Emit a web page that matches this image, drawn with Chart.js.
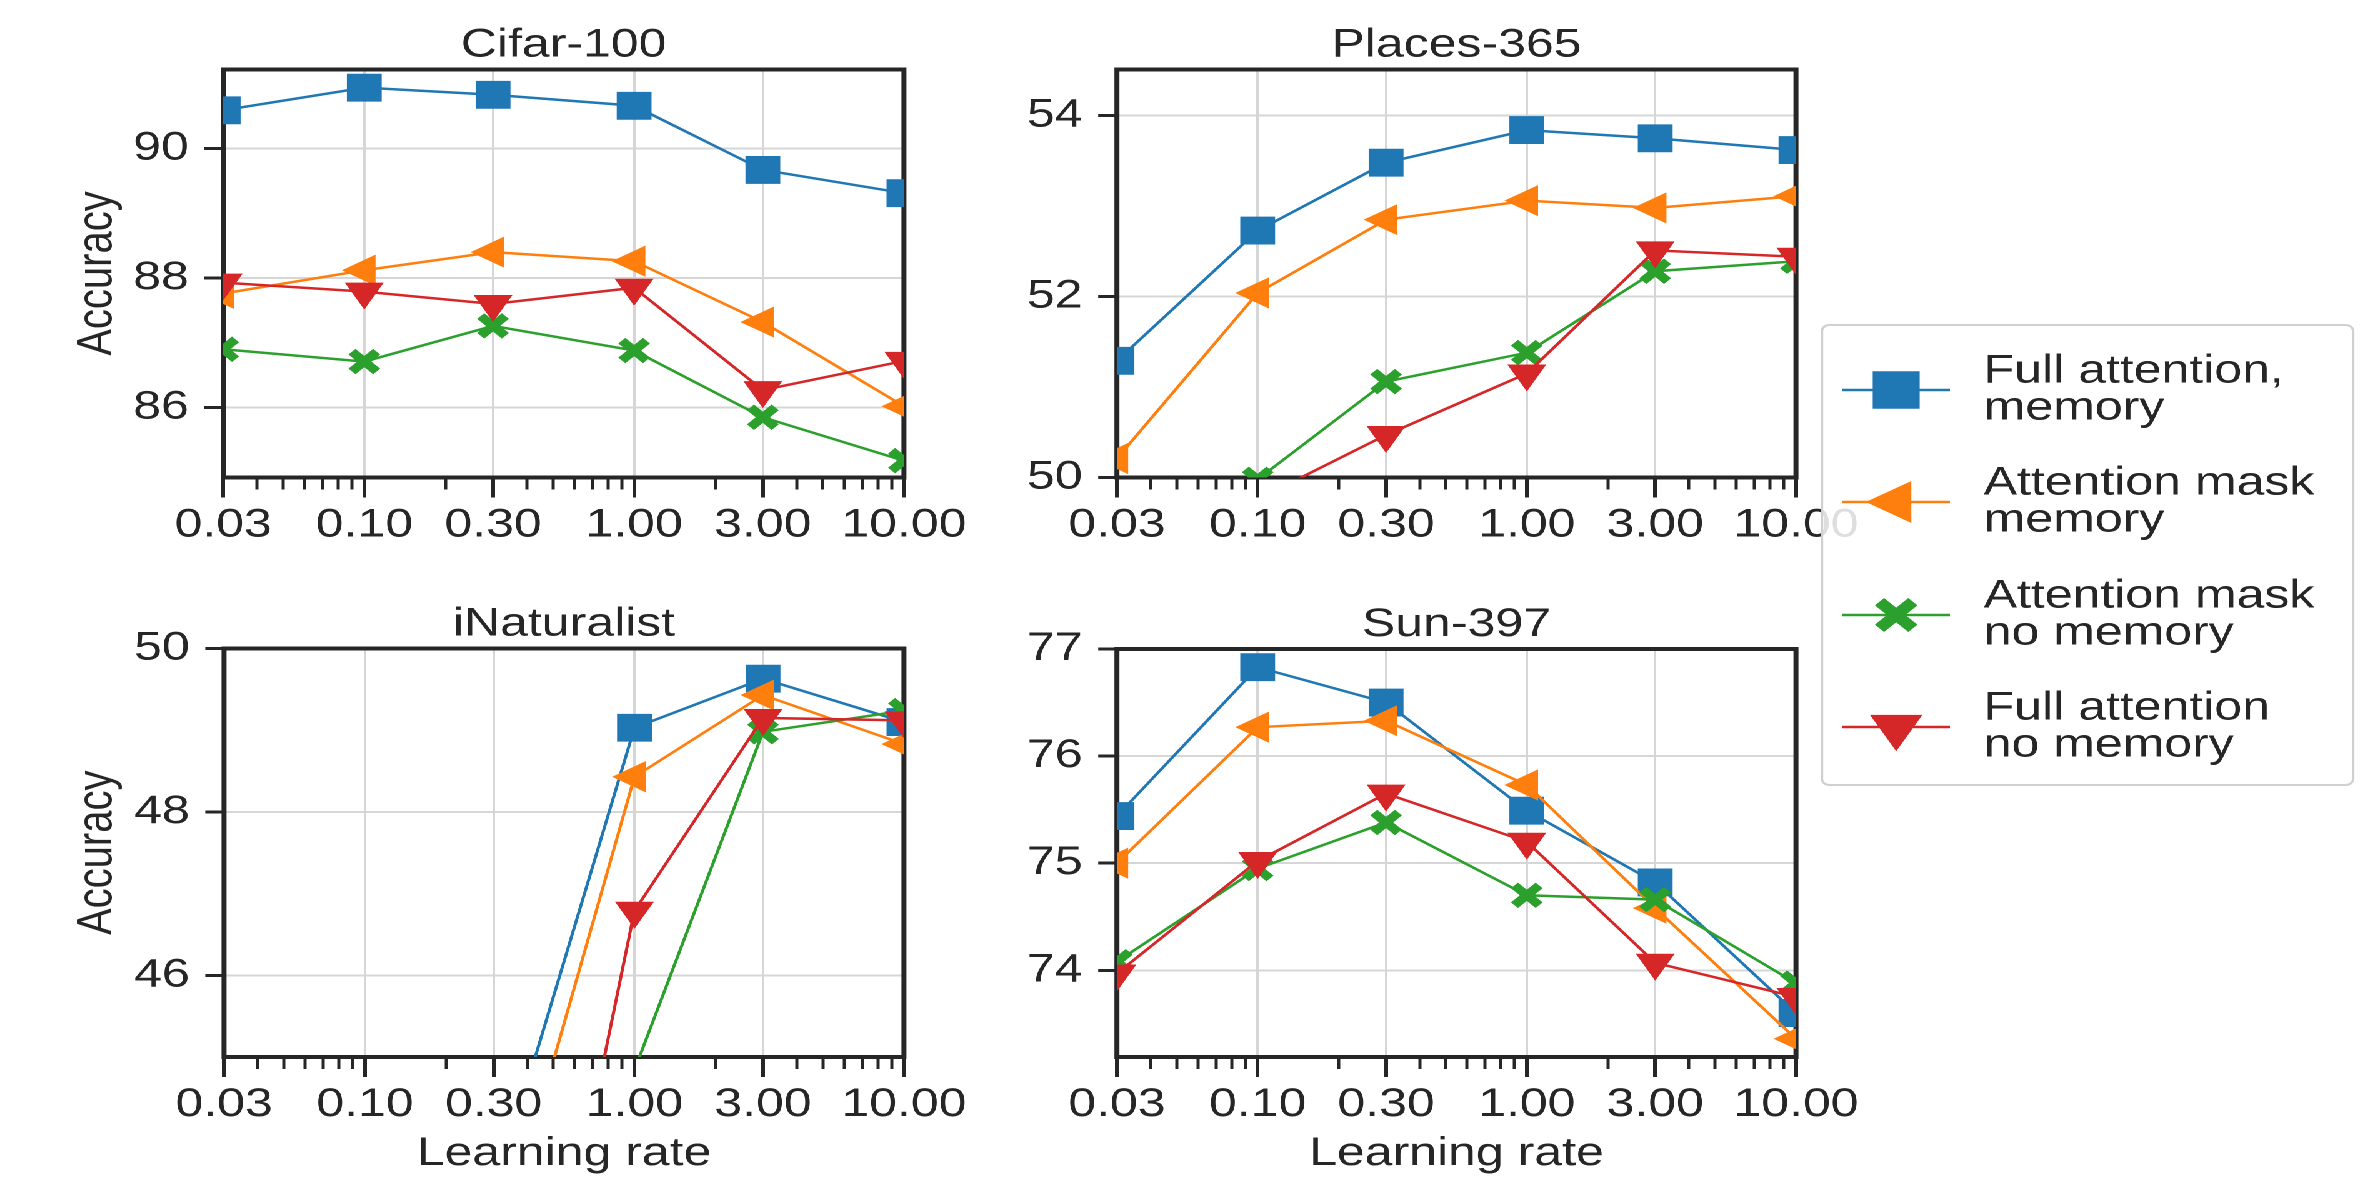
<!DOCTYPE html>
<html lang="en">
<head>
<meta charset="utf-8">
<title>Accuracy vs learning rate</title>
<script src="https://cdn.jsdelivr.net/npm/chart.js@4.4.1/dist/chart.umd.min.js"></script>
<style>
  html, body { margin: 0; padding: 0; background: #ffffff; overflow: hidden; }
  /* the source figure is stretched sideways (~1.25x), so the whole stage is stretched too */
  #stage { position: absolute; left: 0; top: 0; width: 1897px; height: 1178px;
           transform: scaleX(1.25); transform-origin: 0 0; }
  #stage canvas { position: absolute; }
</style>
</head>
<body>
<div id="stage">
  <canvas id="chart-cifar"></canvas>
  <canvas id="chart-places"></canvas>
  <canvas id="chart-inat"></canvas>
  <canvas id="chart-sun"></canvas>
</div>
<script>
// x values shared by all four panels
const learningRates = [0.03, 0.1, 0.3, 1, 3, 10];
const xMajorTicks = [0.03, 0.1, 0.3, 1, 3, 10];
const xMinorTicks = [0.04, 0.05, 0.06, 0.07, 0.08, 0.09, 0.2, 0.4, 0.5, 0.6, 0.7, 0.8, 0.9, 2, 4, 5, 6, 7, 8, 9];

const seriesLabels = [
  ['Full attention,', 'memory'],
  ['Attention mask', 'memory'],
  ['Attention mask', 'no memory'],
  ['Full attention', 'no memory']
];

// Cifar-100
const cifarFullMem   = [90.59, 90.94, 90.83, 90.66, 89.67, 89.31];
const cifarMaskMem   = [87.76, 88.12, 88.40, 88.26, 87.32, 86.02];
const cifarMaskNoMem = [86.90, 86.71, 87.26, 86.88, 85.85, 85.18];
const cifarFullNoMem = [87.93, 87.79, 87.60, 87.85, 86.27, 86.72];
const cifarYTicks = [86, 88, 90];

// Places-365
const placesFullMem   = [51.29, 52.73, 53.48, 53.84, 53.75, 53.62];
const placesMaskMem   = [50.21, 52.04, 52.85, 53.06, 52.98, 53.11];
const placesMaskNoMem = [null, 49.98, 51.06, 51.38, 52.28, 52.39];
const placesFullNoMem = [null, 49.76, 50.47, 51.15, 52.51, 52.44];
const placesYTicks = [50, 52, 54];

// iNaturalist (low learning rates fall far below the axis)
const inatFullMem   = [null, null, 43.31, 49.03, 49.63, 49.10];
const inatMaskMem   = [null, null, 42.39, 48.43, 49.43, 48.83];
const inatMaskNoMem = [null, null, null, 44.84, 48.98, 49.24];
const inatFullNoMem = [null, null, 38.42, 46.79, 49.15, 49.12];
const inatYTicks = [46, 48, 50];

// Sun-397
const sunFullMem   = [75.44, 76.83, 76.50, 75.49, 74.82, 73.60];
const sunMaskMem   = [75.00, 76.27, 76.33, 75.73, 74.58, 73.36];
const sunMaskNoMem = [74.08, 74.95, 75.38, 74.70, 74.66, 73.88];
const sunFullNoMem = [73.97, 75.02, 75.65, 75.20, 74.07, 73.75];
const sunYTicks = [74, 75, 76, 77];

const FONT = "'Liberation Sans', Arial, Helvetica, sans-serif";
const INK = '#262626';
const GRID = '#d6d6d6';

Chart.defaults.font.family = FONT;
Chart.defaults.color = INK;

const seriesStyles = [
  { color: '#1f77b4', pointStyle: 'rect', rotation: 0, radius: 19, border: 1, order: 4 },
  { color: '#ff7f0e', pointStyle: 'triangle', rotation: -90, radius: 17, border: 1, order: 3 },
  { color: '#2ca02c', pointStyle: 'crossRot', rotation: 0, radius: 14, border: 8, order: 2 },
  { color: '#d62728', pointStyle: 'triangle', rotation: 180, radius: 17, border: 1, order: 1 }
];

// black box around every plot area
const framePlugin = {
  id: 'frame',
  beforeDatasetsDraw(chart) {
    const { ctx, chartArea: a } = chart;
    ctx.save();
    ctx.strokeStyle = INK;
    ctx.lineWidth = 4;
    ctx.strokeRect(a.left, a.top, a.right - a.left, a.bottom - a.top);
    ctx.restore();
  }
};

// subplot title centred over the plot area
const panelTitlePlugin = {
  id: 'panelTitle',
  afterDraw(chart, args, opts) {
    const { ctx, chartArea: a } = chart;
    ctx.save();
    ctx.font = `40px ${FONT}`;
    ctx.fillStyle = INK;
    ctx.textAlign = 'center';
    ctx.textBaseline = 'middle';
    ctx.fillText(opts.text, (a.left + a.right) / 2, a.top - 24);
    ctx.restore();
  }
};

// figure legend, drawn on the Places chart canvas
const sideLegendPlugin = {
  id: 'sideLegend',
  afterDraw(chart, args, opts) {
    if (!opts.box) return;
    const { ctx } = chart;
    const b = opts.box;
    ctx.save();
    ctx.beginPath();
    ctx.roundRect(b.x, b.y, b.w, b.h, 6);
    ctx.fillStyle = 'rgba(255,255,255,0.85)';
    ctx.fill();
    ctx.strokeStyle = '#d0d0d0';
    ctx.lineWidth = 2;
    ctx.stroke();

    opts.rows.forEach((cy, i) => {
      const st = seriesStyles[i];
      ctx.strokeStyle = st.color;
      ctx.fillStyle = st.color;
      ctx.lineWidth = 2.5;
      ctx.beginPath();
      ctx.moveTo(opts.lineFrom, cy);
      ctx.lineTo(opts.lineTo, cy);
      ctx.stroke();
      ctx.lineWidth = st.border * 1.3;
      Chart.helpers.drawPoint(ctx, {
        pointStyle: st.pointStyle,
        rotation: st.rotation,
        radius: st.radius * 1.35,
        borderWidth: st.border * 1.3
      }, (opts.lineFrom + opts.lineTo) / 2, cy);

      ctx.fillStyle = INK;
      ctx.font = `40px ${FONT}`;
      ctx.textAlign = 'left';
      ctx.textBaseline = 'middle';
      ctx.fillText(seriesLabels[i][0], opts.textX, cy - 18.5);
      ctx.fillText(seriesLabels[i][1], opts.textX, cy + 18.5);
    });
    ctx.restore();
  }
};

const panels = [
  { id: 'chart-cifar', title: 'Cifar-100', series: [cifarFullMem, cifarMaskMem, cifarMaskNoMem, cifarFullNoMem],
    yMin: 84.92, yMax: 91.22, yTicks: cifarYTicks, yTitle: true, xTitle: false,
    left: 0, top: 0, width: 810, height: 589, plotLeft: 178.5, plotRight: 723.2, plotTop: 69.5, plotBottom: 477.5 },
  { id: 'chart-places', title: 'Places-365', series: [placesFullMem, placesMaskMem, placesMaskNoMem, placesFullNoMem],
    yMin: 50, yMax: 54.51, yTicks: placesYTicks, yTitle: false, xTitle: false,
    left: 740, top: 0, width: 1157, height: 800, plotLeft: 153.6, plotRight: 696.8, plotTop: 69.5, plotBottom: 477.5,
    legend: { box: { x: 717.6, y: 325, w: 425, h: 460 }, rows: [390, 502, 615, 727],
              lineFrom: 734, lineTo: 820, textX: 847 } },
  { id: 'chart-inat', title: 'iNaturalist', series: [inatFullMem, inatMaskMem, inatMaskNoMem, inatFullNoMem],
    yMin: 45, yMax: 50, yTicks: inatYTicks, yTitle: true, xTitle: true,
    left: 0, top: 589, width: 810, height: 589, plotLeft: 179.2, plotRight: 723.2, plotTop: 59.5, plotBottom: 468 },
  { id: 'chart-sun', title: 'Sun-397', series: [sunFullMem, sunMaskMem, sunMaskNoMem, sunFullNoMem],
    yMin: 73.19, yMax: 77, yTicks: sunYTicks, yTitle: false, xTitle: true,
    left: 740, top: 589, width: 800, height: 589, plotLeft: 153.6, plotRight: 696.8, plotTop: 60, plotBottom: 468 }
];

function makePanel(p) {
  const canvas = document.getElementById(p.id);
  canvas.style.left = p.left + 'px';
  canvas.style.top = p.top + 'px';
  canvas.width = p.width;
  canvas.height = p.height;
  canvas.style.width = p.width + 'px';
  canvas.style.height = p.height + 'px';

  const datasets = p.series.map((values, i) => {
    const st = seriesStyles[i];
    return {
      label: seriesLabels[i].join(' '),
      data: values.map((v, j) => ({ x: learningRates[j], y: v })),
      borderColor: st.color,
      backgroundColor: st.color,
      borderWidth: 2.5,
      tension: 0,
      fill: false,
      order: st.order,
      pointStyle: st.pointStyle,
      pointRotation: st.rotation,
      pointRadius: st.radius,
      pointBackgroundColor: st.color,
      pointBorderColor: st.color,
      pointBorderWidth: st.border
    };
  });

  new Chart(canvas, {
    type: 'line',
    data: { datasets },
    plugins: [framePlugin, panelTitlePlugin, sideLegendPlugin],
    options: {
      responsive: false,
      animation: false,
      devicePixelRatio: 2,
      events: [],
      layout: { padding: { left: 0, top: p.plotTop, right: p.width - p.plotRight, bottom: 0 } },
      plugins: {
        legend: { display: false },
        tooltip: { enabled: false },
        panelTitle: { text: p.title },
        sideLegend: p.legend || {}
      },
      scales: {
        x: {
          type: 'logarithmic',
          position: 'bottom',
          weight: 1,
          min: 0.03,
          max: 10,
          afterBuildTicks: s => { s.ticks = xMajorTicks.map(v => ({ value: v })); },
          afterFit: s => { s.height = p.height - p.plotBottom; s.paddingLeft = 0; s.paddingRight = 0; },
          ticks: {
            autoSkip: false, maxRotation: 0, minRotation: 0, padding: 4,
            font: { size: 40 }, color: INK,
            callback: v => Number(v).toFixed(2)
          },
          grid: { color: GRID, lineWidth: 2, tickLength: 20, tickColor: INK, tickWidth: 3 },
          border: { display: false },
          title: { display: p.xTitle, text: 'Learning rate', font: { size: 40 }, color: INK,
                   padding: { top: 0, bottom: 0 } }
        },
        xMinor: {
          type: 'logarithmic',
          axis: 'x',
          position: 'bottom',
          weight: 0,
          min: 0.03,
          max: 10,
          afterBuildTicks: s => { s.ticks = xMinorTicks.map(v => ({ value: v })); },
          afterFit: s => { s.height = 0; s.paddingLeft = 0; s.paddingRight = 0; },
          ticks: { display: false, autoSkip: false },
          grid: { drawOnChartArea: false, tickLength: 12, tickColor: INK, tickWidth: 2.5 },
          border: { display: false }
        },
        y: {
          type: 'linear',
          position: 'left',
          min: p.yMin,
          max: p.yMax,
          afterBuildTicks: s => { s.ticks = p.yTicks.map(v => ({ value: v })); },
          afterFit: s => { s.width = p.plotLeft; s.paddingTop = 0; s.paddingBottom = 0; },
          ticks: { padding: 12.5, font: { size: 40 }, color: INK, callback: v => String(v) },
          grid: { color: GRID, lineWidth: 2, tickLength: 15, tickColor: INK, tickWidth: 3 },
          border: { display: false },
          title: { display: p.yTitle, text: 'Accuracy', font: { size: 40 }, color: INK,
                   padding: { top: 54, bottom: 0 } }
        }
      }
    }
  });
}

panels.forEach(makePanel);
</script>
</body>
</html>
